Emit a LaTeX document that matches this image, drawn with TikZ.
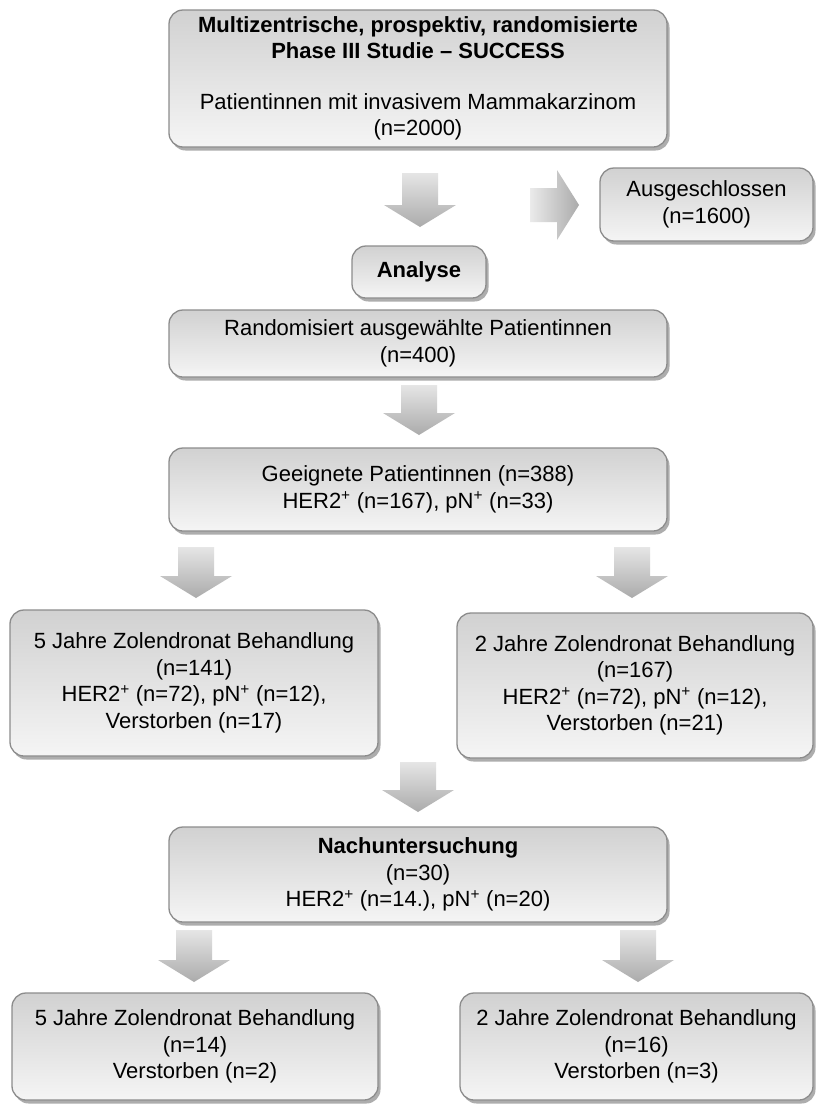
\documentclass[tikz,border=0pt]{standalone}
\usepackage{fontspec}
\setmainfont{Liberation Sans}
\usetikzlibrary{shadows}
\newcommand{\dnarr}[3]{%
  \shade[arrfill] (#1-18,#2) -- (#1+18,#2) -- (#1+18,#3-22) -- (#1+36,#3-22) -- (#1,#3)
    -- (#1-36,#3-22) -- (#1-18,#3-22) -- cycle;}
\begin{document}
\begin{tikzpicture}[x=1pt,y=-1pt,
  box/.style={draw=black!45, line width=1.3pt, rounded corners=14pt,
    top color=black!18, bottom color=black!4, align=center, inner sep=0pt,
    font=\fontsize{22}{26.5}\selectfont,
    drop shadow={shadow xshift=2.5pt, shadow yshift=-3.5pt, fill=black!40, opacity=0.8}},
  arrfill/.style={top color=black!10, bottom color=black!33},
  harrfill/.style={left color=black!8, right color=black!33}]
\useasboundingbox (0,0) rectangle (815,1106);
\fill[white] (0,0) rectangle (815,1106);

\node[box, minimum width=498, minimum height=137] (study) at (418,78.5)
  {\textbf{Multizentrische, prospektiv, randomisierte}\\\textbf{Phase III Studie – SUCCESS}\\[24pt]Patientinnen mit invasivem Mammakarzinom\\(n=2000)};
\node[box, minimum width=213, minimum height=73] (excl) at (706.5,204.5)
  {Ausgeschlossen\\(n=1600)};
\node[box, minimum width=134, minimum height=52] (ana) at (419,272)
  {\textbf{Analyse}};
\node[box, minimum width=498, minimum height=67] (rand) at (418,343.5)
  {Randomisiert ausgewählte Patientinnen\\(n=400)};
\node[box, minimum width=498, minimum height=83] (elig) at (418,489.5)
  {Geeignete Patientinnen (n=388)\\HER2\textsuperscript{+} (n=167), pN\textsuperscript{+} (n=33)};
\node[box, minimum width=368, minimum height=146] (five) at (194,683)
  {5 Jahre Zolendronat Behandlung\\(n=141)\\HER2\textsuperscript{+} (n=72), pN\textsuperscript{+} (n=12),\\Verstorben (n=17)};
\node[box, minimum width=356, minimum height=145] (two) at (635,685.5)
  {2 Jahre Zolendronat Behandlung\\(n=167)\\HER2\textsuperscript{+} (n=72), pN\textsuperscript{+} (n=12),\\Verstorben (n=21)};
\node[box, minimum width=498, minimum height=95] (nach) at (418,874.5)
  {\textbf{Nachuntersuchung}\\(n=30)\\HER2\textsuperscript{+} (n=14.), pN\textsuperscript{+} (n=20)};
\node[box, minimum width=366, minimum height=107] (fiveb) at (195,1046.5)
  {5 Jahre Zolendronat Behandlung\\(n=14)\\Verstorben (n=2)};
\node[box, minimum width=353, minimum height=107] (twob) at (636.5,1046.5)
  {2 Jahre Zolendronat Behandlung\\(n=16)\\Verstorben (n=3)};

% block arrows
\dnarr{420}{173}{227}
\shade[harrfill] (530,188) -- (557,188) -- (557,170) -- (579,205) -- (557,240)
  -- (557,222) -- (530,222) -- cycle;
\dnarr{419}{385}{435}
\dnarr{196}{547}{598}
\dnarr{632}{547}{598}
\dnarr{418}{762}{812}
\dnarr{194}{930}{982}
\dnarr{638}{930}{982}
\end{tikzpicture}
\end{document}
